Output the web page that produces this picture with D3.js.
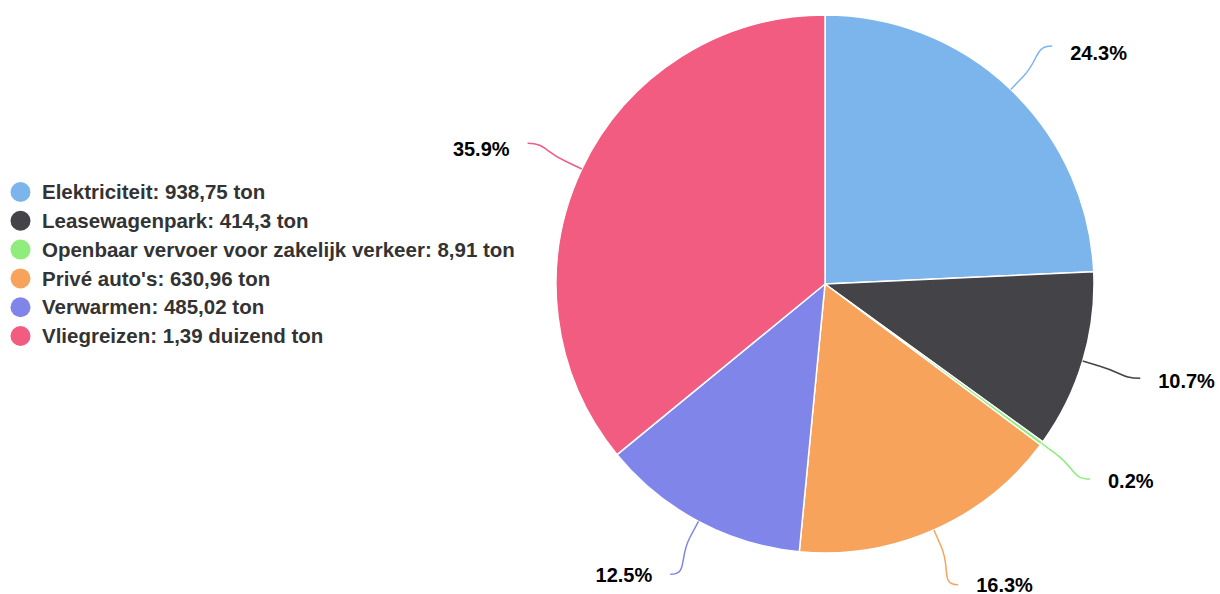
<!DOCTYPE html>
<html>
<head>
<meta charset="utf-8">
<script src="https://cdn.jsdelivr.net/npm/d3@7"></script>
<style>
  body { margin: 0; background: #fff; }
  svg { display: block; font-family: "Liberation Sans", Helvetica, Arial, sans-serif; }
</style>
</head>
<body>
<div id="chart"></div>
<script>
// Chart data
const categories = ["Elektriciteit", "Leasewagenpark", "Openbaar vervoer voor zakelijk verkeer", "Privé auto's", "Verwarmen", "Vliegreizen"];
const values = [938.75, 414.3, 8.91, 630.96, 485.02, 1390];
const valueLabels = ["938,75 ton", "414,3 ton", "8,91 ton", "630,96 ton", "485,02 ton", "1,39 duizend ton"];
const colors = ["#7cb5ec", "#434348", "#90ed7d", "#f7a35c", "#8085e9", "#f15c80"];

const width = 1220, height = 594;
const cx = 825, cy = 284, radius = 269;

const svg = d3.select("#chart")
  .append("svg")
  .attr("width", width)
  .attr("height", height);

const total = d3.sum(values);
const pie = d3.pie().sort(null).value(d => d)(values);
const arc = d3.arc().innerRadius(0).outerRadius(radius);

const pieGroup = svg.append("g").attr("transform", `translate(${cx},${cy})`);

pieGroup.selectAll("path.slice")
  .data(pie)
  .enter()
  .append("path")
  .attr("class", "slice")
  .attr("d", arc)
  .attr("fill", (d, i) => colors[i])
  .attr("stroke", "#ffffff")
  .attr("stroke-width", 1.5)
  .attr("stroke-linejoin", "round");

// point on circle at angle a (from top, clockwise)
function pos(a, r) {
  return [Math.sin(a) * r, -Math.cos(a) * r];
}

const labelGroup = svg.append("g").attr("transform", `translate(${cx},${cy})`);

pie.forEach((d, i) => {
  const a = (d.startAngle + d.endAngle) / 2;
  const touch = pos(a, radius);
  const brk = pos(a, radius + 18);
  const c1 = pos(a, radius + 42);
  const end = pos(a, radius + 60);
  const right = end[0] > 0;
  const c2 = [end[0] + (right ? -18 : 18), end[1]];

  labelGroup.append("path")
    .attr("d", `M${touch[0]},${touch[1]}L${brk[0]},${brk[1]}C${c1[0]},${c1[1]} ${c2[0]},${c2[1]} ${end[0]},${end[1]}`)
    .attr("fill", "none")
    .attr("stroke", colors[i])
    .attr("stroke-width", 1.5);

  labelGroup.append("text")
    .attr("x", end[0] + (right ? 18 : -18))
    .attr("y", end[1] + 4 + 4 * Math.cos(a))
    .attr("dy", "0.35em")
    .attr("text-anchor", right ? "start" : "end")
    .attr("font-size", 20)
    .attr("font-weight", "bold")
    .attr("fill", "#000000")
    .text((values[i] / total * 100).toFixed(1) + "%");
});

// Legend
const legend = svg.append("g").attr("transform", "translate(0,192)");
const rows = legend.selectAll("g.item")
  .data(categories)
  .enter()
  .append("g")
  .attr("class", "item")
  .attr("transform", (d, i) => `translate(0,${i * 28.8})`);

rows.append("circle")
  .attr("cx", 20.5)
  .attr("cy", 0)
  .attr("r", 10)
  .attr("fill", (d, i) => colors[i]);

rows.append("text")
  .attr("x", 42)
  .attr("y", 0)
  .attr("dy", "0.35em")
  .attr("font-size", 20.5)
  .attr("font-weight", "bold")
  .attr("fill", "#333333")
  .text((d, i) => `${d}: ${valueLabels[i]}`);
</script>
</body>
</html>
